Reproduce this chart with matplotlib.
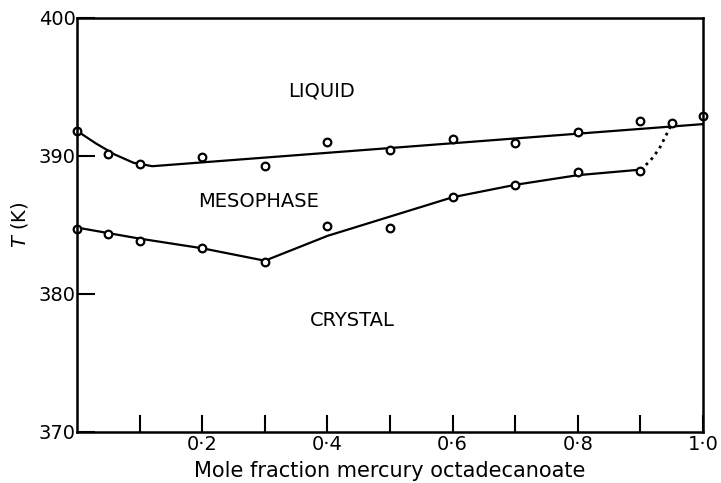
import matplotlib.pyplot as plt

# measured points (mole fraction, T in K)
liq_x = [0.0, 0.05, 0.1, 0.2, 0.3, 0.4, 0.5, 0.6, 0.7, 0.8, 0.9, 0.95, 1.0]
liq_T = [391.8, 390.1, 389.4, 389.9, 389.3, 391.0, 390.4, 391.2, 390.9, 391.7, 392.5, 392.4, 392.9]
sol_x = [0.0, 0.05, 0.1, 0.2, 0.3, 0.4, 0.5, 0.6, 0.7, 0.8, 0.9]
sol_T = [384.7, 384.3, 383.8, 383.3, 382.3, 384.9, 384.8, 387.0, 387.9, 388.8, 388.9]

# drawn phase boundaries
liq_line_x = [0.0, 0.03, 0.06, 0.09, 0.12, 1.0]
liq_line_T = [391.8, 390.9, 390.1, 389.5, 389.25, 392.3]
sol_line_x = [0.0, 0.1, 0.2, 0.3, 0.4, 0.5, 0.6, 0.7, 0.8, 0.9]
sol_line_T = [384.8, 384.0, 383.3, 382.4, 384.2, 385.6, 387.0, 387.9, 388.6, 389.0]
dot_x = [0.9, 0.915, 0.93, 0.94, 0.95]
dot_T = [389.0, 389.6, 390.5, 391.4, 392.3]

fig = plt.figure(figsize=(7.21, 4.83), dpi=100)
ax = fig.add_axes([0.107, 0.106, 0.868, 0.857])

ax.plot(liq_line_x, liq_line_T, color='black', lw=1.6)
ax.plot(sol_line_x, sol_line_T, color='black', lw=1.6)
ax.plot(dot_x, dot_T, color='black', lw=2, ls=(0, (1, 1.6)))
ax.plot(liq_x, liq_T, 'o', mfc='white', mec='black', ms=5.5, mew=1.6, clip_on=False)
ax.plot(sol_x, sol_T, 'o', mfc='white', mec='black', ms=5.5, mew=1.6, clip_on=False)

ax.set_xlim(0, 1.0)
ax.set_ylim(370, 400)

ax.set_xticks([0.1, 0.2, 0.3, 0.4, 0.5, 0.6, 0.7, 0.8, 0.9, 1.0])
ax.set_xticklabels(['', '0·2', '', '0·4', '', '0·6', '', '0·8', '', '1·0'], fontsize=14)
ax.set_yticks([370, 380, 390, 400])
ax.set_yticklabels(['370', '380', '390', '400'], fontsize=14)
ax.tick_params(axis='x', direction='in', length=12, width=1.5, pad=2)
ax.tick_params(axis='y', direction='in', length=13, width=1.5, pad=1)
for sp in ax.spines.values():
    sp.set_linewidth(1.8)

ax.text(0.39, 394.7, 'LIQUID', fontsize=14, ha='center', va='center')
ax.text(0.29, 386.7, 'MESOPHASE', fontsize=14, ha='center', va='center')
ax.text(0.44, 378.1, 'CRYSTAL', fontsize=14, ha='center', va='center')

ax.set_xlabel('Mole fraction mercury octadecanoate', fontsize=15, labelpad=5)
ax.set_ylabel('$T$ (K)', fontsize=14, labelpad=6)

fig.savefig('out.png', dpi=100)
